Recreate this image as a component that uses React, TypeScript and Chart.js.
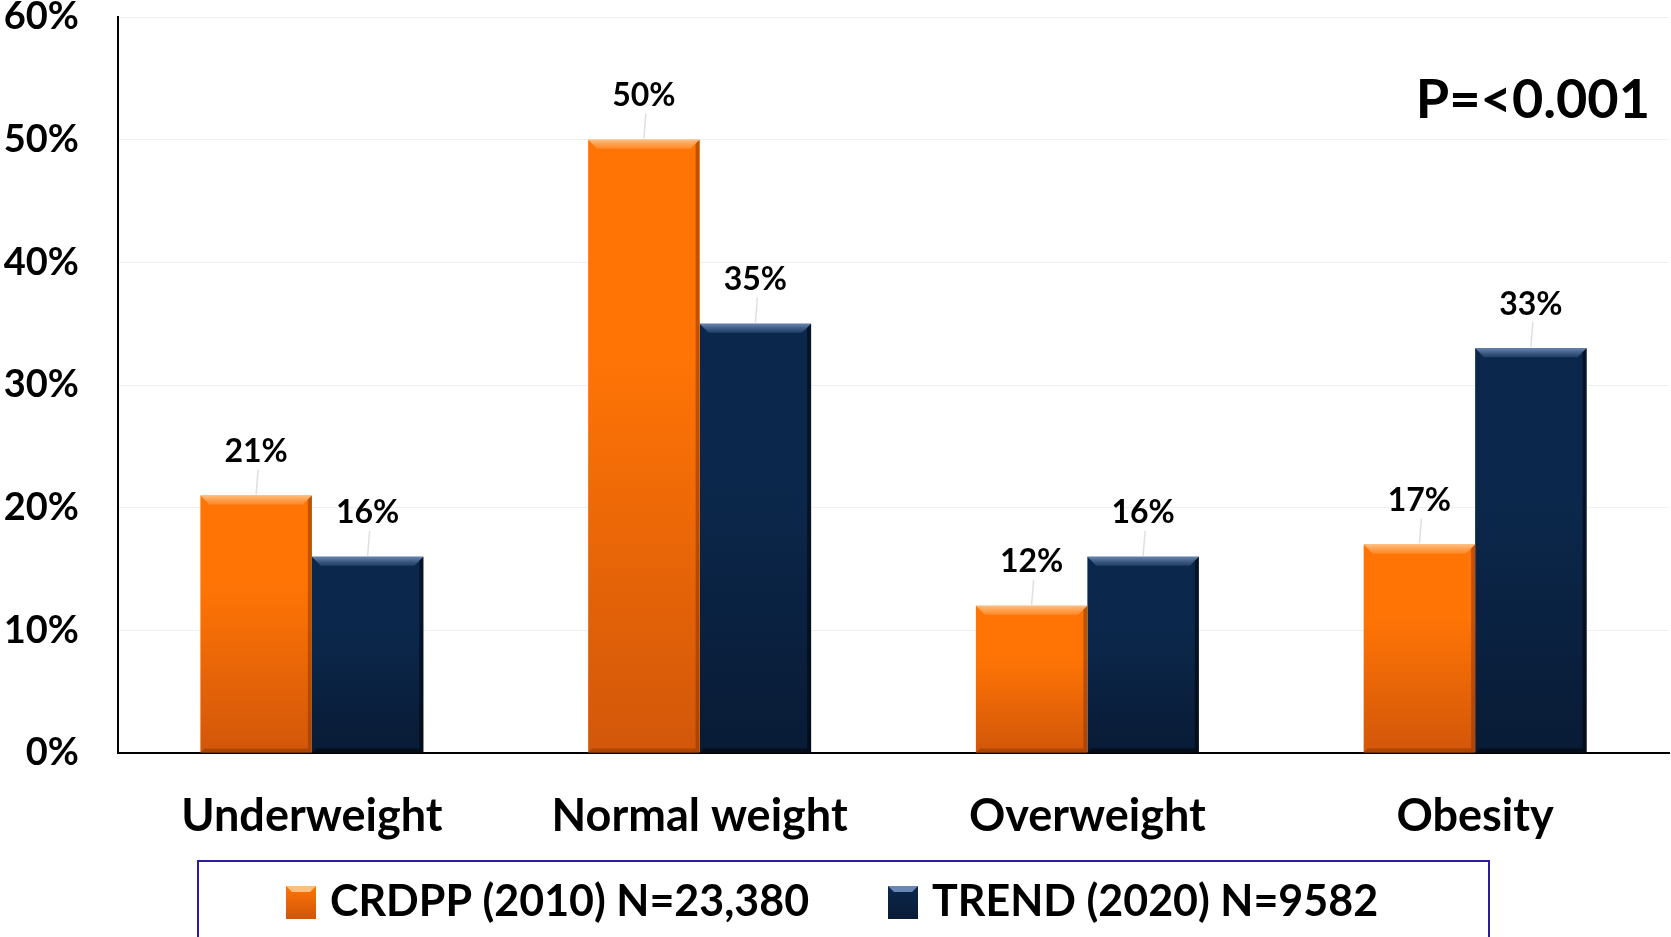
import React, { useEffect, useRef } from 'react';
import { Chart, registerables } from 'chart.js';

Chart.register(...registerables);

const categories = ['Underweight', 'Normal weight', 'Overweight', 'Obesity'];
const crdppValues = [21, 50, 12, 17];
const trendValues = [16, 35, 16, 33];
const seriesLabels = ['CRDPP (2010) N=23,380', 'TREND (2020) N=9582'];
const yMin = 0;
const yMax = 60;
const yStep = 10;
const pValueText = 'P=<0.001';

const FONT = 'Lato, "Open Sans", sans-serif';

const palettes = [
  { top: '#FF7405', bottom: '#D2570A', hi: 'rgba(255,195,135,0.95)', edge: 'rgba(140,55,0,0.55)', light: 'rgba(255,160,80,0.5)' },
  { top: '#0B284C', bottom: '#091B35', hi: 'rgba(110,140,185,0.95)', edge: 'rgba(0,0,0,0.5)', light: 'rgba(70,100,140,0.4)' },
];

const legendMarkerX = [286, 888];

function barGradient(i: number) {
  return (ctx: any) => {
    const chart = ctx.chart;
    const pal = palettes[i];
    if (!chart.chartArea || ctx.type !== 'data' || !chart.scales.y) return pal.top;
    const yScale = chart.scales.y;
    const yTop = yScale.getPixelForValue(ctx.raw as number);
    const yBot = yScale.getPixelForValue(0);
    const g = chart.ctx.createLinearGradient(0, yTop, 0, yBot);
    g.addColorStop(0, pal.top);
    g.addColorStop(0.35, pal.top);
    g.addColorStop(1, pal.bottom);
    return g;
  };
}

const bevelAndLabels = {
  id: 'bevelAndLabels',
  afterDatasetsDraw(chart: any) {
    const ctx = chart.ctx as CanvasRenderingContext2D;
    chart.data.datasets.forEach((ds: any, di: number) => {
      const meta = chart.getDatasetMeta(di);
      const pal = palettes[di];
      meta.data.forEach((el: any, idx: number) => {
        const { x, y, base, width } = el.getProps(['x', 'y', 'base', 'width'], true);
        const l = x - width / 2;
        const r = x + width / 2;
        const b = 9;
        ctx.save();
        const g = ctx.createLinearGradient(0, y, 0, y + b);
        g.addColorStop(0, pal.hi);
        g.addColorStop(1, pal.light);
        ctx.beginPath();
        ctx.moveTo(l, y);
        ctx.lineTo(r, y);
        ctx.lineTo(r - b, y + b);
        ctx.lineTo(l + b, y + b);
        ctx.closePath();
        ctx.fillStyle = g;
        ctx.fill();
        ctx.beginPath();
        ctx.moveTo(r, y);
        ctx.lineTo(r, base);
        ctx.lineTo(r - 4, base - 4);
        ctx.lineTo(r - 4, y + 4);
        ctx.closePath();
        ctx.fillStyle = pal.edge;
        ctx.fill();
        ctx.beginPath();
        ctx.moveTo(l, base);
        ctx.lineTo(r, base);
        ctx.lineTo(r - 4, base - 4);
        ctx.lineTo(l + 4, base - 4);
        ctx.closePath();
        ctx.fillStyle = pal.edge;
        ctx.fill();
        ctx.restore();

        const value = ds.data[idx];
        const ly = y - 44;
        ctx.save();
        ctx.strokeStyle = 'rgba(215,215,215,0.8)';
        ctx.lineWidth = 1.5;
        ctx.beginPath();
        ctx.moveTo(x + 2, ly + 18);
        ctx.lineTo(x, y - 1);
        ctx.stroke();
        ctx.fillStyle = '#000';
        ctx.font = `bold 32px ${FONT}`;
        ctx.textAlign = 'center';
        ctx.textBaseline = 'middle';
        ctx.fillText(`${value}%`, x, ly);
        ctx.restore();
      });
    });
  },
};

const extras = {
  id: 'extras',
  afterDraw(chart: any) {
    const ctx = chart.ctx as CanvasRenderingContext2D;
    ctx.save();
    ctx.fillStyle = '#000';
    ctx.font = `bold 54px ${FONT}`;
    ctx.textAlign = 'right';
    ctx.textBaseline = 'middle';
    ctx.fillText(pValueText, 1650, 101);
    ctx.restore();

    ctx.save();
    ctx.strokeStyle = '#2B1BA3';
    ctx.lineWidth = 2;
    ctx.strokeRect(198, 861, 1291, 100);
    ctx.font = `bold 43px ${FONT}`;
    const marker = 30;
    const gap = 14;
    const cy = 902;
    seriesLabels.forEach((t, i) => {
      const pal = palettes[i];
      const cx = legendMarkerX[i];
      const g = ctx.createLinearGradient(0, cy - 16, 0, cy + 16);
      g.addColorStop(0, pal.top);
      g.addColorStop(1, pal.bottom);
      ctx.fillStyle = g;
      ctx.fillRect(cx, cy - 16, marker, 33);
      ctx.beginPath();
      ctx.moveTo(cx, cy - 16);
      ctx.lineTo(cx + marker, cy - 16);
      ctx.lineTo(cx + marker - 6, cy - 10);
      ctx.lineTo(cx + 6, cy - 10);
      ctx.closePath();
      ctx.fillStyle = pal.hi;
      ctx.fill();
      ctx.fillStyle = '#000';
      ctx.textAlign = 'left';
      ctx.textBaseline = 'middle';
      ctx.fillText(t, cx + marker + gap, cy);
    });
    ctx.restore();
  },
};

export default function App() {
  const ref = useRef<HTMLCanvasElement | null>(null);
  useEffect(() => {
    document.body.style.margin = '0';
    if (!ref.current) return;
    const chart = new Chart(ref.current, {
      type: 'bar',
      data: {
        labels: categories,
        datasets: [
          { label: seriesLabels[0], data: crdppValues, backgroundColor: barGradient(0), borderWidth: 0 },
          { label: seriesLabels[1], data: trendValues, backgroundColor: barGradient(1), borderWidth: 0 },
        ],
      },
      options: {
        responsive: false,
        animation: false,
        layout: { padding: { top: 0, right: 2, bottom: 96, left: 0 } },
        plugins: { legend: { display: false }, tooltip: { enabled: false } },
        datasets: { bar: { categoryPercentage: 0.575, barPercentage: 1 } },
        scales: {
          x: {
            grid: { display: false, drawTicks: false },
            border: { color: '#000', width: 2 },
            ticks: { color: '#000', padding: 36, maxRotation: 0, font: { family: FONT, size: 45, weight: 'bold' } },
            afterFit: (scale: any) => {
              scale.height = 88;
            },
          },
          y: {
            min: yMin,
            max: yMax,
            grid: { color: '#F0F0F0', lineWidth: 1, drawTicks: false },
            border: { color: '#000', width: 2 },
            ticks: {
              stepSize: yStep,
              color: '#000',
              padding: 39,
              font: { family: FONT, size: 38, weight: 'bold', lineHeight: 1 },
              callback: (v: any) => `${v}%`,
            },
            afterFit: (scale: any) => {
              scale.width = 118;
              scale.paddingTop = 17;
              scale.paddingBottom = 17;
            },
          },
        },
      },
      plugins: [bevelAndLabels, extras],
    });
    return () => chart.destroy();
  }, []);
  return (
    <div style={{ width: 1671, height: 937, background: '#fff' }}>
      <canvas ref={ref} width={1671} height={937} style={{ display: 'block' }} />
    </div>
  );
}
